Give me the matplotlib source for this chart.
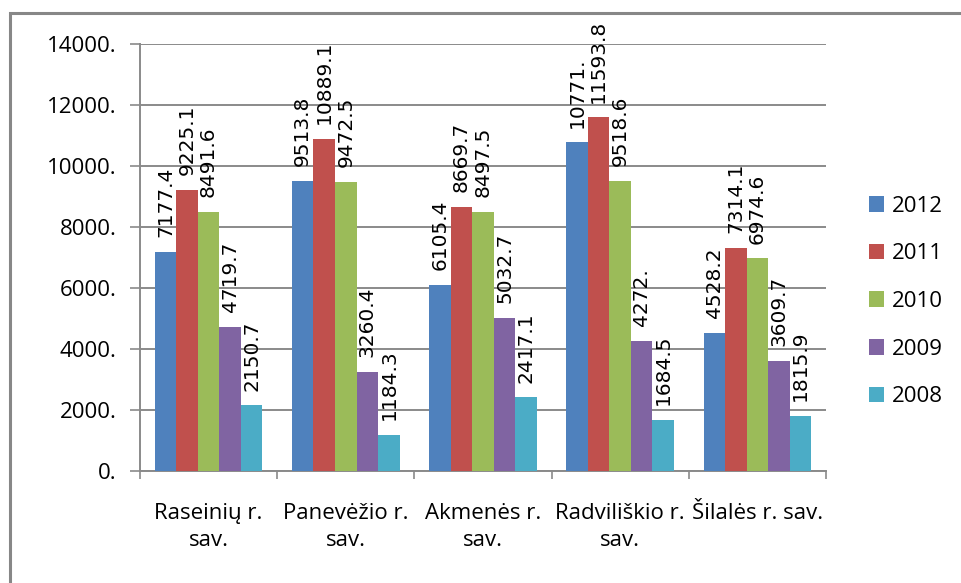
import numpy as np
import matplotlib.pyplot as plt
from matplotlib.patches import Rectangle

# district names and yearly values
districts = ['Raseinių r.\nsav.', 'Panevėžio r.\nsav.', 'Akmenės r.\nsav.',
             'Radviliškio r.\nsav.', 'Šilalės r. sav.']
years = ['2012', '2011', '2010', '2009', '2008']
v2012 = [7177.4, 9513.8, 6105.4, 10771.0, 4528.2]
v2011 = [9225.1, 10889.1, 8669.7, 11593.8, 7314.1]
v2010 = [8491.6, 9472.5, 8497.5, 9518.6, 6974.6]
v2009 = [4719.7, 3260.4, 5032.7, 4272.0, 3609.7]
v2008 = [2150.7, 1184.3, 2417.1, 1684.5, 1815.9]
label_text = [['7177.4', '9513.8', '6105.4', '10771.', '4528.2'],
              ['9225.1', '10889.1', '8669.7', '11593.8', '7314.1'],
              ['8491.6', '9472.5', '8497.5', '9518.6', '6974.6'],
              ['4719.7', '3260.4', '5032.7', '4272.', '3609.7'],
              ['2150.7', '1184.3', '2417.1', '1684.5', '1815.9']]
yticks = [0, 2000, 4000, 6000, 8000, 10000, 12000, 14000]
ytick_labels = ['0.', '2000.', '4000.', '6000.', '8000.', '10000.', '12000.', '14000.']

colors = ['#4F81BD', '#C0504D', '#9BBB59', '#8064A2', '#4BACC6']
series = [v2012, v2011, v2010, v2009, v2008]

ui_font = ['Open Sans', 'DejaVu Sans']

fig = plt.figure(figsize=(9.61, 5.83), dpi=100)
ax = fig.add_axes([0.1457, 0.1921, 0.7138, 0.7324])

x = np.arange(len(districts))
w = 0.157
for i, (vals, c) in enumerate(zip(series, colors)):
    pos = x + (i - 2) * w
    ax.bar(pos, vals, width=w, color=c, label=years[i], zorder=3)
    for px, v, t in zip(pos, vals, label_text[i]):
        ax.text(px, v + 480, t, rotation=90, ha='center', va='bottom',
                fontsize=14.5, family='DejaVu Sans', color='#000000', zorder=4)

ax.set_xlim(-0.5, 4.5)
ax.set_ylim(0, 14000)
ax.set_yticks(yticks)
ax.set_yticklabels(ytick_labels, family=ui_font, fontsize=16)
ax.yaxis.grid(True, color='#8a8a8a', linewidth=1.4, zorder=0)
ax.tick_params(axis='y', length=7, width=1.2, color='#8a8a8a', pad=10)

ax.set_xticks(np.arange(-0.5, 5, 1))
ax.set_xticklabels([])
ax.tick_params(axis='x', length=6, width=1.2, color='#8a8a8a')
for xi, name in zip(x, districts):
    ax.text(xi, -1050, name, ha='center', va='top', fontsize=16,
            family=ui_font, linespacing=1.35)

for s in ['top', 'right']:
    ax.spines[s].set_visible(False)
for s in ['left', 'bottom']:
    ax.spines[s].set_color('#8a8a8a')
    ax.spines[s].set_linewidth(1.4)

leg = fig.legend(loc='center left', bbox_to_anchor=(0.904, 0.483), frameon=False,
                 prop={'family': ui_font, 'size': 16}, handlelength=0.7,
                 handleheight=0.7, handletextpad=0.35, labelspacing=1.2,
                 borderpad=0, borderaxespad=0)

# outer chart frame
fig.patches.append(Rectangle((10 / 961, -0.05), 1.2, 1 - 13 / 583 + 0.05,
                             transform=fig.transFigure, fill=False,
                             edgecolor='#878787', linewidth=2.2))

fig.savefig('out.png', dpi=100)
